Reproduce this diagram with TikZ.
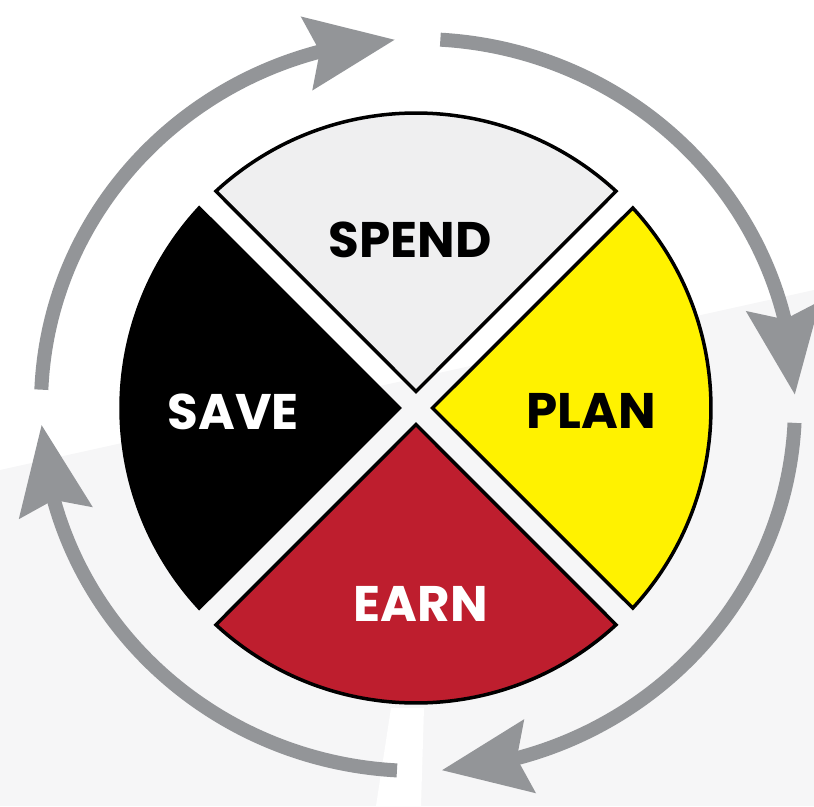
\documentclass[tikz,border=0pt]{standalone}
\usepackage{fontspec}
\setmainfont{Poppins}
\usetikzlibrary{arrows.meta,bending}
\definecolor{spendgray}{HTML}{EFEFF0}
\definecolor{planyellow}{HTML}{FFF200}
\definecolor{earnred}{HTML}{BE1E2E}
\definecolor{cyclegray}{HTML}{939598}
\definecolor{bgtint}{HTML}{F6F6F7}

\begin{document}
\begin{tikzpicture}
  [x=1pt,y=1pt,
   wedge/.style={draw=black,line width=3.5pt,line join=miter},
   cyc/.style={draw=cyclegray,line width=14pt,-{Stealth[length=88pt,width=72pt,inset=12pt]}},
   every node/.style={font=\bfseries\fontsize{50}{50}\selectfont}]
  \useasboundingbox (-416,-398) rectangle (398,408);
  % faint backdrop
  \fill[bgtint] (-416,-62) -- (398,118) -- (398,-398) -- (-416,-398) -- cycle;
  \fill[white] (-40,-398) -- (-25,-300) -- (8,-300) -- (5,-398) -- cycle;

  % the four quarters
  \foreach \ang/\col in {90/spendgray,180/black,270/earnred,0/planyellow}
    \draw[wedge,fill=\col,rotate=\ang-90] (0,16.5) -- (47.3:295)
      arc[start angle=47.3,end angle=132.7,radius=295] -- cycle;

  \node[text=black] (spend) at (-6,168) {SPEND};
  \node[text=white] (save) at (-183,-4) {SAVE};
  \node[text=black] (plan) at (175,-3) {PLAN};
  \node[text=white] (earn) at (5,-196) {EARN};

  % cycle arrows
  \begin{scope}[shift={(2,3)}]
    \foreach \s/\e [count=\i] in {86.6/1.6,-2.8/-86.4,-93.2/-176.9,177.6/93.5}
      \draw[cyc] (\s:377 and 366) coordinate (c\i)
        arc[start angle=\s,end angle=\e,x radius=377,y radius=366];
  \end{scope}
\end{tikzpicture}
\end{document}
